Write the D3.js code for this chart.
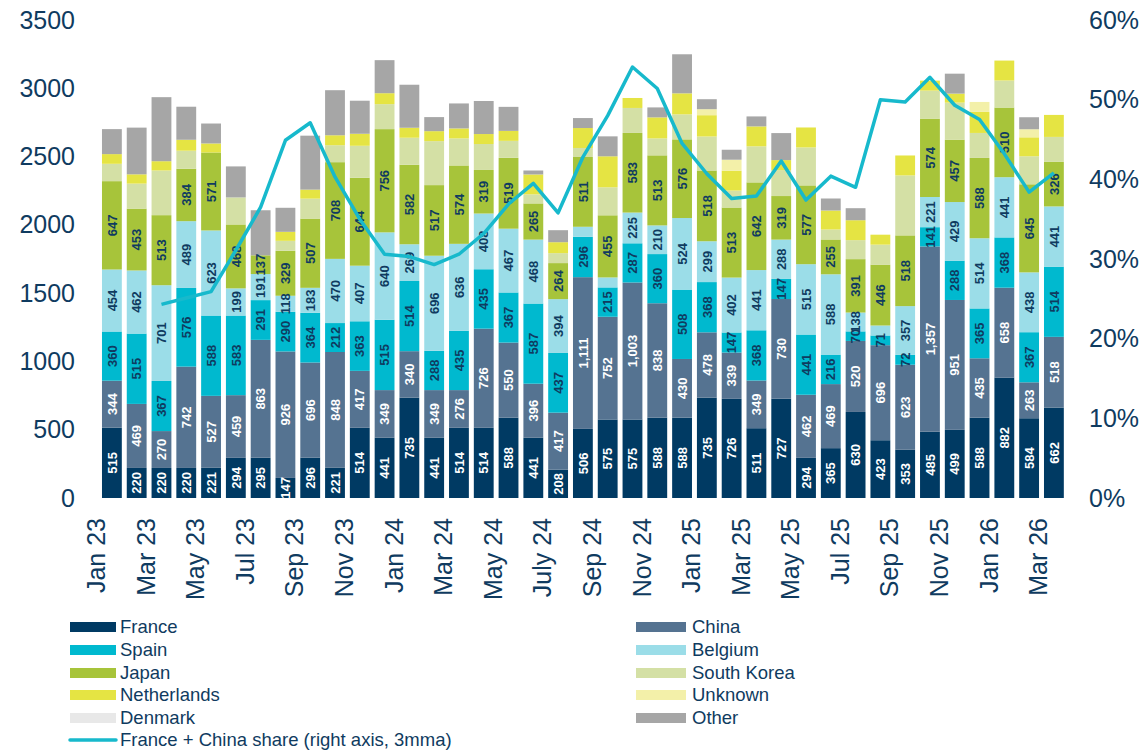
<!DOCTYPE html>
<html lang="en">
<meta charset="utf-8">
<head>
    <script src="https://d3js.org/d3.v7.min.js"></script>
    <style>
        body { margin: 0; background: #fff; }
        text { font-family: "Liberation Sans", Arial, sans-serif; }
    </style>
</head>
<body>
<script>
    // monthly data, Jan 23 - Mar 26
    var months = ["Jan 23","Feb 23","Mar 23","Apr 23","May 23","Jun 23","Jul 23","Aug 23","Sep 23","Oct 23","Nov 23","Dec 23",
        "Jan 24","Feb 24","Mar 24","Apr 24","May 24","Jun 24","July 24","Aug 24","Sep 24","Oct 24","Nov 24","Dec 24",
        "Jan 25","Feb 25","Mar 25","Apr 25","May 25","Jun 25","Jul 25","Aug 25","Sep 25","Oct 25","Nov 25","Dec 25",
        "Jan 26","Feb 26","Mar 26"];

    var france = [515,220,220,220,221,294,295,147,296,221,514,441,735,441,514,514,588,441,208,506,575,575,588,588,735,726,511,727,294,365,630,423,353,485,499,588,882,584,662];
    var china = [344,469,270,742,527,459,863,926,696,848,417,349,340,349,276,726,550,396,417,1111,752,1003,838,430,478,339,349,730,462,469,520,696,623,1357,951,435,658,263,518];
    var spain = [360,515,367,576,588,583,291,290,364,212,363,515,514,288,435,435,367,587,437,296,215,287,360,508,368,147,368,147,441,216,70,71,72,141,288,365,368,367,514];
    var belgium = [454,462,701,489,623,199,191,118,183,470,407,640,269,696,636,408,467,468,394,73,73,225,210,524,299,402,441,288,515,588,138,73,357,221,429,514,441,438,441];
    var japan = [647,453,513,384,571,468,137,329,507,708,644,756,582,517,574,319,519,265,264,511,455,583,513,576,518,513,642,319,577,255,391,446,518,574,457,588,510,645,326];
    var southKorea = [127,183,327,132,0,198,0,73,146,124,234,183,198,322,198,190,124,66,73,66,205,183,124,183,249,124,264,190,278,73,139,146,439,205,271,183,198,205,183];
    var netherlands = [71,68,68,80,66,0,0,66,66,73,88,80,73,73,73,73,73,146,80,146,227,73,154,154,156,146,146,73,146,139,146,73,146,73,66,154,146,139,161];
    var unknown = [0,0,0,0,0,0,0,0,0,0,0,0,0,0,0,0,0,0,0,0,0,0,0,0,44,80,0,0,0,0,0,0,0,0,0,73,0,59,0];
    var denmark = [0,0,0,0,0,0,0,0,0,0,0,0,0,0,0,0,0,0,0,0,0,0,0,0,0,0,0,0,0,0,0,0,0,0,0,0,0,0,0];
    var other = [183,342,469,242,146,227,330,176,395,330,242,242,315,103,183,242,176,29,88,73,146,0,73,286,73,73,73,198,0,88,88,0,0,0,146,0,0,88,0];

    // France + China share, 3mma (starts Mar 23)
    var share = [null,null,24.3,25.1,25.9,31.1,36.5,44.9,47.1,40.3,35.0,30.6,30.3,29.3,30.6,33.2,36.9,39.5,35.8,42.8,48.0,54.1,51.4,44.5,
        40.7,37.6,37.9,42.3,37.4,40.4,39.0,50.0,49.7,52.8,49.3,47.5,43.2,38.4,40.8];

    var belgiumUnlabeled = ["Aug 24","Sep 24","Aug 25"];

    var keys = ["France","China","Spain","Belgium","Japan","South Korea","Netherlands","Unknown","Denmark","Other"];
    var series = [france, china, spain, belgium, japan, southKorea, netherlands, unknown, denmark, other];
    var colors = ["#003a63","#557391","#00b9cf","#9bdde8","#a7c43a","#d4e0a5","#e5e443","#f3f0a9","#e8e8e8","#a6a6a6"];
    var labelled = ["France","China","Spain","Belgium","Japan"];
    var navy = "#0f3b60";

    var table = months.map(function(m, i) {
        var row = {month: m};
        keys.forEach(function(k, j) { row[k] = series[j][i]; });
        return row;
    });

    var svg = d3.select("body").append("svg")
        .attr("width", 1145)
        .attr("height", 753);

    var x = d3.scaleBand()
        .domain(months)
        .range([99.5, 1066.3])
        .paddingInner(0.2)
        .paddingOuter(0.1);

    var y = d3.scaleLinear().domain([0, 3500]).range([498, 20]);
    var y2 = d3.scaleLinear().domain([0, 0.6]).range([498, 20]);

    var color = d3.scaleOrdinal().domain(keys).range(colors);

    // axes (no lines, just labels)
    var yAxis = svg.append("g")
        .attr("transform", "translate(75,0)")
        .call(d3.axisLeft(y).tickValues(d3.range(0, 3501, 500)).tickFormat(d3.format("d")).tickSize(0).tickPadding(0));
    yAxis.select(".domain").remove();
    yAxis.selectAll("text").style("font-size", "25px").attr("fill", navy);

    var yAxis2 = svg.append("g")
        .attr("transform", "translate(1089,0)")
        .call(d3.axisRight(y2).tickValues(d3.range(0, 0.61, 0.1)).tickFormat(d3.format(".0%")).tickSize(0).tickPadding(0));
    yAxis2.select(".domain").remove();
    yAxis2.selectAll("text").style("font-size", "25px").attr("fill", navy);

    var xAxis = svg.append("g")
        .attr("transform", "translate(0,498)")
        .call(d3.axisBottom(x).tickValues(months.filter(function(d, i) { return i % 2 == 0; })).tickSize(0));
    xAxis.select(".domain").remove();
    xAxis.selectAll("text")
        .style("font-size", "25px")
        .attr("fill", navy)
        .attr("text-anchor", "end")
        .attr("transform", "rotate(-90)")
        .attr("x", -20)
        .attr("y", 0)
        .attr("dy", "-0.27em");

    // stacked bars
    var stacked = d3.stack().keys(keys)(table);

    var layer = svg.selectAll(".layer")
        .data(stacked)
        .enter()
        .append("g")
        .attr("class", "layer")
        .attr("fill", function(d) { return color(d.key); });

    layer.selectAll("rect")
        .data(function(d) { return d; })
        .enter()
        .append("rect")
        .attr("x", function(d) { return x(d.data.month); })
        .attr("y", function(d) { return y(d[1]); })
        .attr("width", x.bandwidth())
        .attr("height", function(d) { return y(d[0]) - y(d[1]); });

    // data labels
    var fmt = d3.format(",");
    stacked.forEach(function(s) {
        if (labelled.indexOf(s.key) < 0) return;
        var light = (s.key == "France" || s.key == "China");
        svg.append("g")
            .selectAll("text")
            .data(s.filter(function(d) {
                var v = d[1] - d[0];
                if (v <= 0) return false;
                if (s.key == "Belgium" && belgiumUnlabeled.indexOf(d.data.month) >= 0) return false;
                return true;
            }))
            .enter()
            .append("text")
            .attr("transform", function(d) {
                var cx = x(d.data.month) + x.bandwidth() / 2;
                var cy = (y(d[0]) + y(d[1])) / 2;
                return "translate(" + cx + "," + cy + ") rotate(-90)";
            })
            .attr("text-anchor", "middle")
            .attr("dy", "0.36em")
            .style("font-size", "13px")
            .style("font-weight", "bold")
            .attr("fill", light ? "#ffffff" : navy)
            .text(function(d) { return fmt(d[1] - d[0]); });
    });

    // share line on right axis
    var line = d3.line()
        .defined(function(d) { return d != null; })
        .x(function(d, i) { return x(months[i]) + x.bandwidth() / 2; })
        .y(function(d) { return y2(d / 100); });

    svg.append("path")
        .datum(share)
        .attr("fill", "none")
        .attr("stroke", "#17b9cc")
        .attr("stroke-width", 3.5)
        .attr("stroke-linejoin", "round")
        .attr("d", line);

    // legend
    var legendLeft = ["France","Spain","Japan","Netherlands","Denmark"];
    var legendRight = ["China","Belgium","South Korea","Unknown","Other"];
    var rowY = [627, 650, 673, 695, 718, 740];

    function legendCol(names, sx, sw, tx) {
        names.forEach(function(n, i) {
            svg.append("rect")
                .attr("x", sx)
                .attr("y", rowY[i] - 5)
                .attr("width", sw)
                .attr("height", 10)
                .attr("fill", color(n));
            svg.append("text")
                .attr("x", tx)
                .attr("y", rowY[i])
                .attr("dy", "0.35em")
                .style("font-size", "18.5px")
                .attr("fill", navy)
                .text(n);
        });
    }
    legendCol(legendLeft, 70, 46, 120);
    legendCol(legendRight, 636, 50, 692);

    svg.append("line")
        .attr("x1", 70).attr("x2", 116)
        .attr("y1", rowY[5]).attr("y2", rowY[5])
        .attr("stroke", "#17b9cc")
        .attr("stroke-width", 3.5)
        .attr("stroke-linecap", "round");
    svg.append("text")
        .attr("x", 120)
        .attr("y", rowY[5])
        .attr("dy", "0.35em")
        .style("font-size", "18.5px")
        .attr("fill", navy)
        .text("France + China share (right axis, 3mma)");
</script>
</body>
</html>
